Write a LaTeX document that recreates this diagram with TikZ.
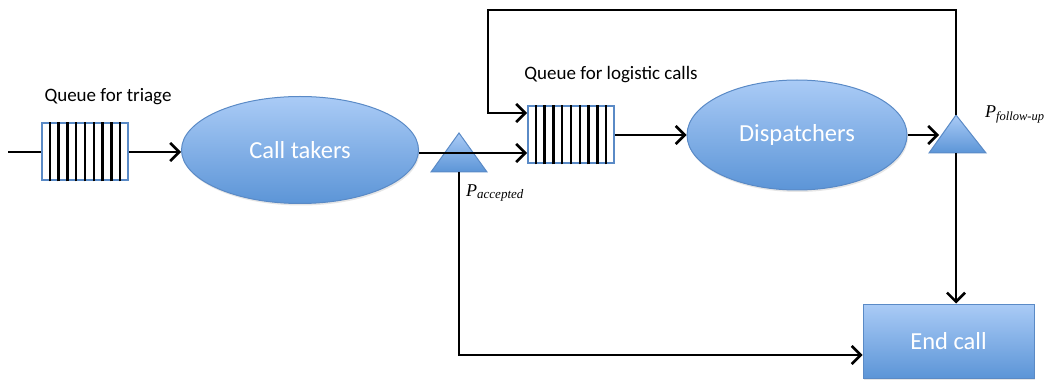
\documentclass[tikz,border=0pt]{standalone}
\usepackage{fontspec}
\setmainfont{Carlito}
\newfontfamily\probfont{Liberation Serif}
\usetikzlibrary{arrows.meta,shapes.geometric,shadows,calc}

\definecolor{blueTop}{HTML}{AACBF6}
\definecolor{blueBot}{HTML}{5C95D7}
\definecolor{blueEdge}{HTML}{5A8AC6}

\tikzset{
  bluefill/.style={top color=blueTop, bottom color=blueBot, draw=blueEdge, line width=1pt,
    drop shadow={opacity=0.2, shadow xshift=1pt, shadow yshift=-2pt}},
  server/.style={ellipse, bluefill, text=white, font=\fontsize{24.5}{28}\selectfont, inner sep=0pt},
  endbox/.style={rectangle, bluefill, text=white, font=\fontsize{24.5}{28}\selectfont, inner sep=0pt},
  queuebox/.style={rectangle, draw=blueEdge, line width=2pt, fill=white, inner sep=0pt,
    minimum width=86pt, minimum height=57pt},
  qlabel/.style={font=\fontsize{19}{22}\selectfont, text=black, inner sep=0pt},
  plabel/.style={font=\probfont\itshape\fontsize{18}{20}\selectfont, inner sep=0pt},
  flow/.style={line width=2.2pt, -{Straight Barb[length=9pt,width=18pt,line width=2.6pt]}},
  wire/.style={line width=2.2pt},
  trianglefill/.style={top color=blueTop, bottom color=blueBot, draw=blueEdge, line width=1pt}
}

% vertical bars inside a queue node
\newcommand{\queuebars}[1]{%
  \foreach \i in {1,...,9}{
    \draw[line width=2.4pt]
      ($(#1.south west)!\i/10!(#1.south east)$) -- ($(#1.north west)!\i/10!(#1.north east)$);
  }%
}

\begin{document}
\begin{tikzpicture}[x=1pt,y=-1pt]
\useasboundingbox (0,0) rectangle (1049,382);

% triage queue and call takers
\coordinate (in) at (8,152);
\node[queuebox] (q1) at (85,152) {};
\queuebars{q1}
\node[qlabel] (q1lab) at (108,97) {Queue for triage};
\node[server, minimum width=237pt, minimum height=107pt] (ct) at (300,150) {Call takers};

% acceptance split
\coordinate (t1apex) at (459,133);
\coordinate (t1bl) at (431,172);
\coordinate (t1br) at (487,172);
\coordinate (t1base) at (459,172);
\draw[trianglefill] (t1apex) -- (t1br) -- (t1bl) -- cycle;
\node[plabel, anchor=west] (pacc) at (466,193) {P\raisebox{-0.35ex}{\fontsize{13}{14}\selectfont accepted}};

% logistic queue and dispatchers
\node[queuebox] (q2) at (571,135) {};
\queuebars{q2}
\node[qlabel] (q2lab) at (611,75) {Queue for logistic calls};
\node[server, minimum width=220pt, minimum height=110pt] (disp) at (797,135) {Dispatchers};

% follow-up split
\coordinate (t2apex) at (956,115);
\coordinate (t2bl) at (929,153);
\coordinate (t2br) at (986,153);
\coordinate (t2base) at (956,153);
\draw[trianglefill] (t2apex) -- (t2br) -- (t2bl) -- cycle;
\node[plabel, anchor=west] (pfol) at (985,114) {P\raisebox{-0.35ex}{\fontsize{12.5}{14}\selectfont follow-up}};

% end of call
\node[endbox, minimum width=171pt, minimum height=74pt] (end) at (948.5,341) {End call};

% connectors
\draw[wire] (in) -- (q1.west);
\draw[flow] (q1.east) -- (ct.west |- q1.east);
\draw[flow] (ct.east |- 0,153) -- (q2.west |- 0,153);
\draw[flow] (q2.east) -- (disp.west);
\draw[flow] (disp.east) -- (939,135);
\coordinate (fbtop) at (956,10);
\coordinate (fbleft) at (488,10);
\draw[flow] (t2apex) -- (fbtop) -- (fbleft) -- (488,113) -- (q2.west |- 0,113);
\draw[flow] (t2base) -- (t2base |- end.north);
\draw[flow] (t1base) -- (459,355) -- (end.west |- 0,355);
\end{tikzpicture}
\end{document}
